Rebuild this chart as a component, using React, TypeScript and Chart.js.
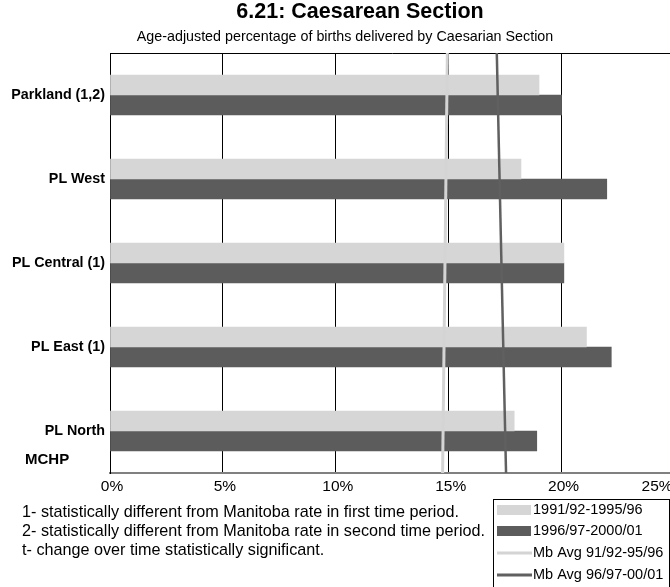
import React, { useEffect, useRef } from "react";
import { Chart, registerables } from "chart.js";

Chart.register(...registerables);

const categories = ["Parkland (1,2)", "PL West", "PL Central (1)", "PL East (1)", "PL North"];
const period1 = [19.0, 18.2, 20.1, 21.1, 17.9];
const period2 = [20.0, 22.0, 20.1, 22.2, 18.9];
// Manitoba averages, read at the top and bottom of the plot (the lines slant slightly)
const mbAvg1 = [14.94, 14.73];
const mbAvg2 = [17.13, 17.54];
const lineEnds = [1, 0];
const xTicks = [0, 5, 10, 15, 20, 25];
const seriesLabels = ["1991/92-1995/96", "1996/97-2000/01", "Mb Avg 91/92-95/96", "Mb Avg 96/97-00/01"];
const titleText = "6.21: Caesarean Section";
const subtitleText = "Age-adjusted percentage of births delivered by Caesarian Section";
const footnotes = [
  "1- statistically different from Manitoba rate in first time period.",
  "2- statistically different from Manitoba rate in second time period.",
  "t- change over time statistically significant.",
];
const logoText = "MCHP";

const LIGHT = "#D6D6D6";
const DARK = "#5C5C5C";
const LINE_LIGHT = "#D4D4D4";
const LINE_DARK = "#606060";
const FONT = "Arial, 'Liberation Sans', sans-serif";

const W = 690;
const H = 587;
const PAD_TOP = 53;
const Y_AXIS_W = 110;
const X_AXIS_H = 26;
const PAD_BOTTOM = 88;
const PAD_RIGHT = 15.5;

const framePlugin = {
  id: "frame",
  afterDraw(chart: any) {
    const ctx = chart.ctx as CanvasRenderingContext2D;
    const ca = chart.chartArea;
    ctx.save();
    ctx.strokeStyle = "#000";
    ctx.lineWidth = 1;
    ctx.beginPath();
    ctx.moveTo(ca.left, Math.round(ca.top) + 0.5);
    ctx.lineTo(ca.right, Math.round(ca.top) + 0.5);
    ctx.stroke();
    ctx.restore();
  },
};

const textPlugin = {
  id: "texts",
  afterDraw(chart: any) {
    const ctx = chart.ctx as CanvasRenderingContext2D;
    ctx.save();
    ctx.fillStyle = "#000";
    ctx.textBaseline = "middle";
    ctx.textAlign = "center";
    ctx.font = `bold 21.5px ${FONT}`;
    ctx.fillText(titleText, 360, 12);
    ctx.font = `14.3px ${FONT}`;
    ctx.fillText(subtitleText, 345, 37);

    ctx.textAlign = "left";
    ctx.font = `bold 15px ${FONT}`;
    ctx.fillText(logoText, 25, 460);

    ctx.font = `16.2px ${FONT}`;
    footnotes.forEach((t, i) => ctx.fillText(t, 22, 513 + i * 19));

    ctx.strokeStyle = "#000";
    ctx.lineWidth = 1;
    ctx.strokeRect(493.5, 499.5, 176, 100);
    const rowY = [510, 531, 553, 575];
    const kinds = ["bar", "bar", "line", "line"];
    const colors = [LIGHT, DARK, LINE_LIGHT, LINE_DARK];
    seriesLabels.forEach((label, i) => {
      const y = rowY[i];
      if (kinds[i] === "line") {
        ctx.strokeStyle = colors[i];
        ctx.lineWidth = 3;
        ctx.beginPath();
        ctx.moveTo(497, y);
        ctx.lineTo(532, y);
        ctx.stroke();
      } else {
        ctx.fillStyle = colors[i];
        ctx.fillRect(497, y - 5, 34, 10);
      }
      ctx.fillStyle = "#000";
      ctx.font = `14.5px ${FONT}`;
      ctx.fillText(label, 533, y);
    });
    ctx.restore();
  },
};

export default function App() {
  const barRef = useRef<HTMLCanvasElement>(null);
  const lineRef = useRef<HTMLCanvasElement>(null);
  useEffect(() => {
    if (!barRef.current || !lineRef.current) return;
    const lastTick = xTicks[xTicks.length - 1];
    const barChart = new Chart(barRef.current, {
      type: "bar",
      data: {
        labels: categories,
        datasets: [
          {
            label: seriesLabels[0],
            data: period1,
            backgroundColor: LIGHT,
            borderWidth: 0,
            barThickness: 20,
          },
          {
            label: seriesLabels[1],
            data: period2,
            backgroundColor: DARK,
            borderWidth: 0,
            barThickness: 20,
          },
        ],
      },
      options: {
        indexAxis: "y",
        responsive: false,
        animation: false,
        devicePixelRatio: 1,
        layout: {
          autoPadding: false,
          padding: { top: PAD_TOP, bottom: PAD_BOTTOM, left: 0, right: PAD_RIGHT },
        },
        plugins: {
          legend: { display: false },
          title: { display: false },
          tooltip: { enabled: false },
        },
        scales: {
          x: {
            type: "linear",
            min: xTicks[0],
            max: lastTick,
            afterBuildTicks: (scale: any) => {
              scale.ticks = xTicks.map((v) => ({ value: v }));
            },
            afterFit: (scale: any) => {
              scale.height = X_AXIS_H;
              scale.paddingLeft = 0;
              scale.paddingRight = 0;
            },
            ticks: {
              // the last label is pulled inward, as in the original
              callback: (v: any) => (v === lastTick ? `${v}%` + " ".repeat(9) : `${v}%`),
              color: "#000",
              font: { family: FONT, size: 15.5 },
              padding: 4,
              labelOffset: 2,
              maxRotation: 0,
            },
            grid: { color: "#000", lineWidth: 1, drawTicks: false },
            border: { display: true, color: "#808080", width: 2 },
          },
          y: {
            type: "category",
            afterFit: (scale: any) => {
              scale.width = Y_AXIS_W;
            },
            ticks: {
              color: "#000",
              font: { family: FONT, size: 14.3, weight: "bold" },
              padding: 5,
            },
            grid: { display: false, drawTicks: false },
            border: { display: true, color: "#000", width: 1 },
          },
        },
      } as any,
      plugins: [framePlugin],
    });

    const lineChart = new Chart(lineRef.current, {
      type: "scatter",
      data: {
        datasets: [
          {
            label: seriesLabels[2],
            data: mbAvg1.map((v, i) => ({ x: v, y: lineEnds[i] })),
            borderColor: LINE_LIGHT,
            borderWidth: 3,
            pointRadius: 0,
            showLine: true,
          },
          {
            label: seriesLabels[3],
            data: mbAvg2.map((v, i) => ({ x: v, y: lineEnds[i] })),
            borderColor: LINE_DARK,
            borderWidth: 2.5,
            pointRadius: 0,
            showLine: true,
          },
        ],
      },
      options: {
        responsive: false,
        animation: false,
        devicePixelRatio: 1,
        layout: {
          autoPadding: false,
          padding: { top: PAD_TOP, bottom: PAD_BOTTOM + X_AXIS_H, left: Y_AXIS_W, right: PAD_RIGHT },
        },
        plugins: {
          legend: { display: false },
          title: { display: false },
          tooltip: { enabled: false },
        },
        scales: {
          x: { type: "linear", display: false, min: xTicks[0], max: lastTick },
          y: { type: "linear", display: false, min: 0, max: 1 },
        },
      } as any,
      plugins: [textPlugin],
    });
    return () => {
      barChart.destroy();
      lineChart.destroy();
    };
  }, []);

  const canvasStyle: React.CSSProperties = {
    position: "absolute",
    left: 0,
    top: 0,
    width: W,
    height: H,
    display: "block",
  };

  return (
    <div
      style={{
        position: "absolute",
        left: 0,
        top: 0,
        width: 670,
        height: H,
        overflow: "hidden",
        background: "#fff",
      }}
    >
      <canvas ref={barRef} width={W} height={H} style={canvasStyle} />
      <canvas ref={lineRef} width={W} height={H} style={canvasStyle} />
    </div>
  );
}
